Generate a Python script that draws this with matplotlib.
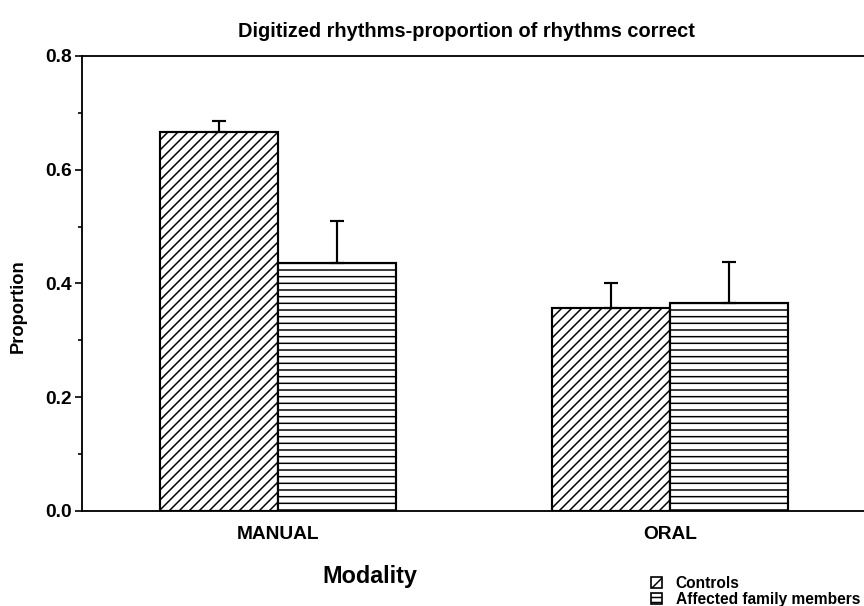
import matplotlib
matplotlib.use("Agg")
import matplotlib.pyplot as plt
from matplotlib.patches import Patch
import numpy as np

plt.rcParams['font.family'] = ['Liberation Sans', 'DejaVu Sans']
plt.rcParams['font.weight'] = 'bold'
plt.rcParams['hatch.linewidth'] = 0.9

# данные
modalities = ['MANUAL', 'ORAL']
groups = ['Controls', 'Affected family members']
controls = [0.667, 0.357]
controls_err = [0.019, 0.043]
affected = [0.436, 0.366]
affected_err = [0.073, 0.071]
hatches = ['////', '---']

fig = plt.figure(figsize=(7.2, 5.05), dpi=120)
ax = fig.add_axes([0.0949, 0.1568, 0.9074, 0.7508])

x = np.arange(len(modalities))
w = 0.302
ax.bar(x - w / 2, controls, w, color='white', edgecolor='black', linewidth=1.3,
       hatch=hatches[0], yerr=[np.zeros(len(x)), controls_err],
       error_kw=dict(elinewidth=1.3, capsize=4, capthick=1.3, ecolor='black'))
ax.bar(x + w / 2, affected, w, color='white', edgecolor='black', linewidth=1.3,
       hatch=hatches[1], yerr=[np.zeros(len(x)), affected_err],
       error_kw=dict(elinewidth=1.3, capsize=4, capthick=1.3, ecolor='black'))

ax.set_xlim(-0.5, 1.5)
ax.set_ylim(0, 0.8)
ax.set_yticks([0.0, 0.2, 0.4, 0.6, 0.8])
ax.set_yticks([0.1, 0.3, 0.5, 0.7], minor=True)
ax.set_yticklabels(['0.0', '0.2', '0.4', '0.6', '0.8'], fontsize=11.5, fontweight='bold')
ax.set_xticks(x)
ax.set_xticklabels(modalities, fontsize=11.5, fontweight='bold')
ax.tick_params(axis='x', length=0, pad=9)
ax.tick_params(axis='y', which='major', length=4, width=1.0, direction='out', pad=2)
ax.tick_params(axis='y', which='minor', length=2.5, width=1.0, direction='out')
ax.spines['right'].set_visible(False)
for s in ['left', 'top', 'bottom']:
    ax.spines[s].set_linewidth(1.1)

fig.text(0.54, 0.948, 'Digitized rhythms-proportion of rhythms correct',
         ha='center', va='center', fontsize=12, fontweight='bold')
fig.text(0.021, 0.495, 'Proportion', rotation=90, ha='center', va='center',
         fontsize=11, fontweight='bold')
fig.text(0.428, 0.048, 'Modality', ha='center', va='center',
         fontsize=14, fontweight='bold')

handles = [Patch(facecolor='white', edgecolor='black', hatch=h, linewidth=1.0)
           for h in ['/', '----']]
fig.legend(handles, groups, loc='lower left', bbox_to_anchor=(0.741, -0.019),
           frameon=False, handlelength=0.7, handleheight=0.7,
           handletextpad=0.9, labelspacing=0.05, borderpad=0.2,
           prop={'weight': 'bold', 'size': 9.3})

fig.savefig('out.png', dpi=120)
